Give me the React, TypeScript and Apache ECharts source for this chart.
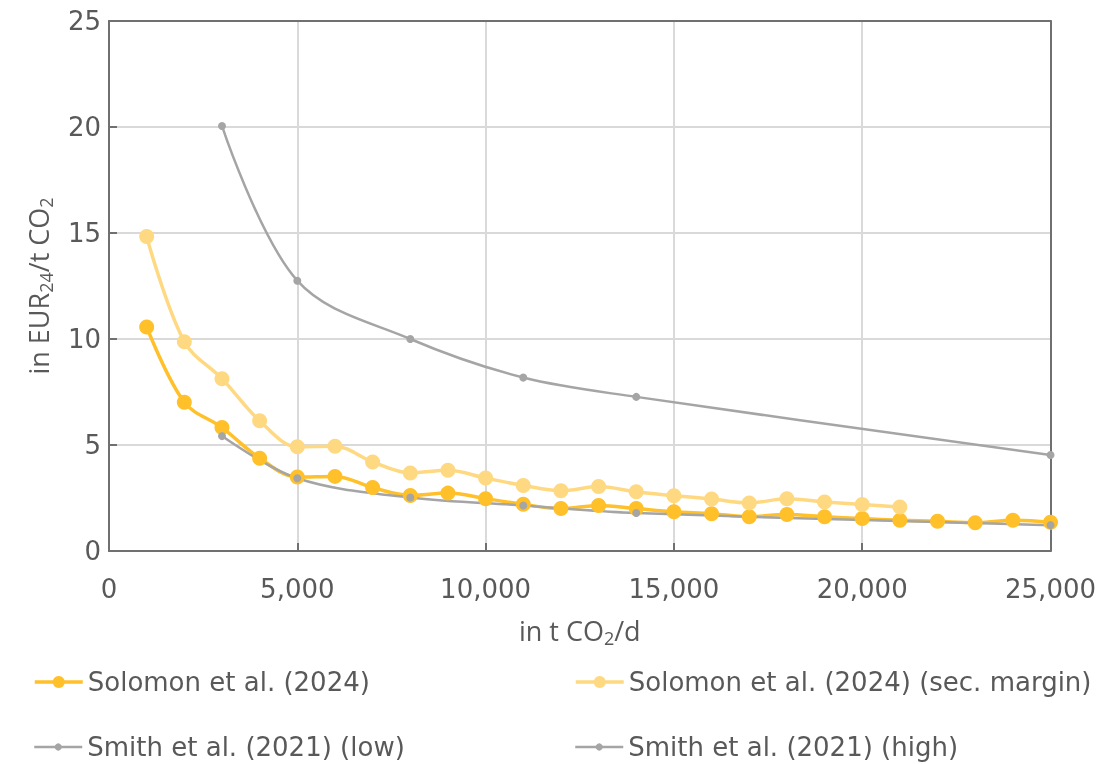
import React, { useEffect, useRef } from "react";
import * as echarts from "echarts";

const SERIES_NAMES = [
  "Solomon et al. (2024)",
  "Solomon et al. (2024) (sec. margin)",
  "Smith et al. (2021) (low)",
  "Smith et al. (2021) (high)",
];

const solomonX = [1000, 2000, 3000, 4000, 5000, 6000, 7000, 8000, 9000, 10000, 11000, 12000, 13000, 14000, 15000, 16000, 17000, 18000, 19000, 20000, 21000, 22000, 23000, 24000, 25000];
const solomonY = [10.57, 7.02, 5.82, 4.38, 3.49, 3.52, 2.99, 2.62, 2.73, 2.47, 2.2, 2.0, 2.15, 2.0, 1.85, 1.76, 1.62, 1.72, 1.62, 1.53, 1.45, 1.4, 1.33, 1.45, 1.36];

const secMarginX = [1000, 2000, 3000, 4000, 5000, 6000, 7000, 8000, 9000, 10000, 11000, 12000, 13000, 14000, 15000, 16000, 17000, 18000, 19000, 20000, 21000];
const secMarginY = [14.83, 9.87, 8.13, 6.14, 4.92, 4.94, 4.2, 3.68, 3.81, 3.44, 3.09, 2.84, 3.04, 2.79, 2.61, 2.45, 2.27, 2.46, 2.31, 2.19, 2.08];

const smithX = [3000, 5000, 8000, 11000, 14000, 25000];
const smithLowY = [5.42, 3.43, 2.52, 2.15, 1.79, 1.22];
const smithHighY = [20.05, 12.75, 10.0, 8.18, 7.27, 4.53];

const pairs = (xs: number[], ys: number[]) => xs.map((x, i) => [x, ys[i]]);

const TEXT = "#595959";
const AXIS = "#6e7170";
const GRID = "#d9d9d9";
const FONT = "'DejaVu Sans', sans-serif";
const NAME_FONT = "'Open Sans', sans-serif";

export default function App() {
  const ref = useRef<HTMLDivElement>(null);
  useEffect(() => {
    if (!ref.current) return;
    const chart = echarts.init(ref.current, undefined, { renderer: "svg" });
    const legendBase = {
      textStyle: { color: TEXT, fontSize: 26, fontFamily: FONT },
      itemWidth: 48,
      itemGap: 10,
    };
    const mkLine = (name: string, xs: number[], ys: number[], color: string, big: boolean) => ({
      name,
      type: "line",
      data: pairs(xs, ys),
      smooth: 0.35,
      symbol: "circle",
      symbolSize: big ? 15 : 8,
      lineStyle: { color, width: big ? 3.5 : 2.5 },
      itemStyle: { color },
      emphasis: { disabled: true },
    });
    const nameRich = {
      a: { fontSize: 27, color: TEXT, fontFamily: NAME_FONT, lineHeight: 34 },
      s: { fontSize: 18, color: TEXT, fontFamily: NAME_FONT, lineHeight: 20, verticalAlign: "bottom" },
    };
    const frameAxis = {
      axisLine: { show: true, onZero: false, lineStyle: { color: AXIS, width: 2 } },
      axisTick: { show: false },
      axisLabel: { show: false },
      splitLine: { show: false },
    };
    chart.setOption({
      animation: false,
      textStyle: { fontFamily: FONT },
      grid: { left: 109, right: 47, top: 21, bottom: 213 },
      legend: [
        { ...legendBase, itemHeight: 15, lineStyle: { width: 3.5 }, data: [SERIES_NAMES[0]], left: 28, top: 664 },
        { ...legendBase, itemHeight: 15, lineStyle: { width: 3.5 }, data: [SERIES_NAMES[1]], left: 569, top: 664 },
        { ...legendBase, itemHeight: 9, lineStyle: { width: 2.5 }, data: [SERIES_NAMES[2]], left: 28, top: 729 },
        { ...legendBase, itemHeight: 9, lineStyle: { width: 2.5 }, data: [SERIES_NAMES[3]], left: 569, top: 729 },
      ],
      xAxis: [
        {
          type: "value",
          min: 0,
          max: 25000,
          interval: 5000,
          name: "{a|in t CO}{s|2}{a|/d}",
          nameLocation: "middle",
          nameGap: 62,
          nameTextStyle: { rich: nameRich },
          axisLine: { onZero: false, lineStyle: { color: AXIS, width: 2 } },
          axisTick: { show: true, inside: true, length: 8, lineStyle: { color: AXIS, width: 2 } },
          axisLabel: {
            color: TEXT,
            fontSize: 26,
            fontFamily: FONT,
            margin: 25,
            formatter: (v: number) => v.toLocaleString("en-US"),
          },
          splitLine: { show: true, lineStyle: { color: GRID, width: 2 } },
        },
        { type: "value", position: "top", min: 0, max: 25000, interval: 5000, ...frameAxis },
      ],
      yAxis: [
        {
          type: "value",
          min: 0,
          max: 25,
          interval: 5,
          name: "{a|in EUR}{s|24}{a|/t CO}{s|2}",
          nameLocation: "middle",
          nameGap: 54,
          nameTextStyle: { rich: nameRich },
          axisLine: { show: true, onZero: false, lineStyle: { color: AXIS, width: 2 } },
          axisTick: { show: true, inside: true, length: 8, lineStyle: { color: AXIS, width: 2 } },
          axisLabel: { color: TEXT, fontSize: 26, fontFamily: FONT, margin: 8 },
          splitLine: { show: true, lineStyle: { color: GRID, width: 2 } },
        },
        { type: "value", position: "right", min: 0, max: 25, interval: 5, ...frameAxis },
      ],
      series: [
        mkLine(SERIES_NAMES[0], solomonX, solomonY, "#ffc02a", true),
        mkLine(SERIES_NAMES[1], secMarginX, secMarginY, "#ffd981", true),
        mkLine(SERIES_NAMES[2], smithX, smithLowY, "#a5a5a5", false),
        mkLine(SERIES_NAMES[3], smithX, smithHighY, "#a5a5a5", false),
      ],
    });
    return () => chart.dispose();
  }, []);
  return (
    <div
      ref={ref}
      style={{ position: "fixed", left: 0, top: 0, width: 1099, height: 764 }}
    />
  );
}
